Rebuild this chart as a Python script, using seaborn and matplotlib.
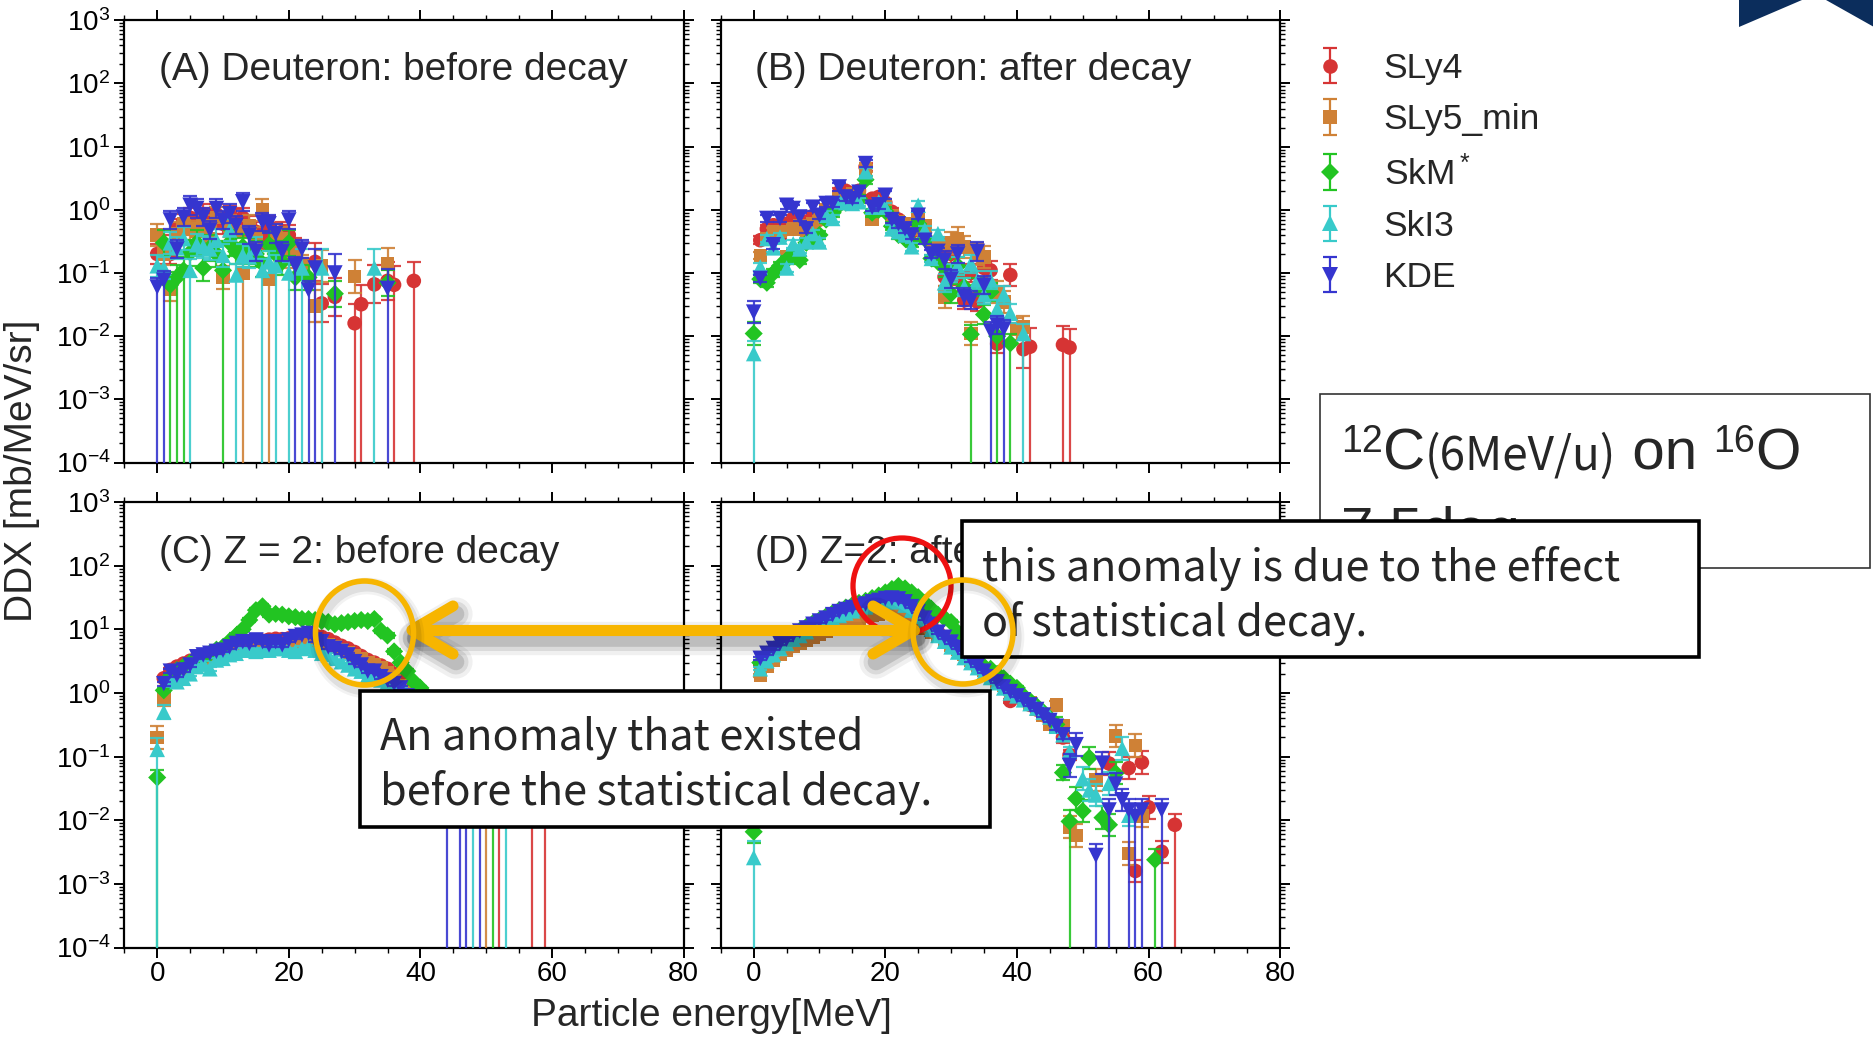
import numpy as np
import matplotlib
matplotlib.use("Agg")
import matplotlib.pyplot as plt
import seaborn as sns
from matplotlib.patches import Rectangle, Ellipse, Polygon
from matplotlib.lines import Line2D
from matplotlib.collections import LineCollection
from matplotlib.container import ErrorbarContainer
from matplotlib.ticker import LogLocator, MultipleLocator, NullFormatter

# ---------------------------------------------------------------- data
MODELS = ["SLy4", "SLy5_min", "SkM*", "SkI3", "KDE"]
LABELS = ["SLy4", "SLy5_min", "SkM$^*$", "SkI3", "KDE"]
COLORS = ["#d63434", "#cf8136", "#22c422", "#38caca", "#3535cf"]
MARKERS = ["o", "s", "D", "^", "v"]
TITLES = {"A": "(A) Deuteron: before decay", "B": "(B) Deuteron: after decay",
          "C": "(C) Z = 2: before decay", "D": "(D) Z=2: after decay"}
XLABEL = "Particle energy[MeV]"
YLABEL = "DDX [mb/MeV/sr]"

# Panel A : deuteron, before decay
A_SLy4_E = [0,1,2,3,4,5,6,7,8,9,10,11,12,13,14,15,16,17,18,19,20,21,22,24,25,27,30,31,33,35,36,39]
A_SLy4_y = [0.2,0.28,0.2,0.5,0.6,0.75,0.55,0.85,0.75,0.85,0.6,0.8,0.7,0.75,0.55,0.45,0.35,0.55,0.3,0.45,
            0.4,0.25,0.12,0.15,0.033,0.042,0.016,0.032,0.066,0.075,0.065,0.075]
A_SLy4_up = [0.45]*23 + [1.0]*9
A_SLy4_floor = [30,31,36,39]

A_SLy5_E = [0,1,2,3,4,5,6,7,8,9,10,11,12,13,14,15,16,17,18,19,20,21,22,24,25,30,35]
A_SLy5_y = [0.4,0.2,0.055,0.42,0.6,0.5,0.45,0.55,0.35,0.75,0.085,0.55,0.45,0.1,0.55,0.35,1.0,0.08,0.4,0.35,
            0.18,0.22,0.13,0.03,0.13,0.088,0.14]
A_SLy5_up = [0.5]*23 + [0.8]*4
A_SLy5_floor = [13,17]

A_SkM_E = [1,2,3,4,5,6,7,8,9,10,11,12,13,14,15,16,17,18,19,20,21,23,27,35]
A_SkM_y = [0.3,0.065,0.085,0.11,0.21,0.3,0.12,0.25,0.2,0.11,0.3,0.22,0.26,0.22,0.2,0.14,0.28,0.2,0.15,0.3,
           0.085,0.085,0.047,0.07]
A_SkM_up = [0.6]*24
A_SkM_floor = [2,3,4,10]

A_SkI3_E = [0,1,2,3,4,5,6,7,8,9,10,11,12,13,14,15,16,17,18,20,22,25,33]
A_SkI3_y = [0.13,0.12,0.3,0.25,0.35,0.11,0.28,0.26,0.24,0.33,0.19,0.48,0.093,0.19,0.18,0.25,0.11,0.15,0.13,0.1,
            0.12,0.12,0.12]
A_SkI3_up = [0.5]*20 + [1.0]*3
A_SkI3_floor = [5,12,16,18,20,22,25,33]

A_KDE_E = [0,1,2,3,4,5,6,7,8,9,10,11,12,13,14,15,16,17,18,19,20,21,22,23,24,27,35]
A_KDE_y = [0.06,0.077,0.69,0.24,0.77,1.18,1.05,0.77,0.48,1.05,0.69,0.87,0.57,1.34,0.4,0.22,0.64,0.6,0.42,0.22,
           0.69,0.13,0.24,0.054,0.12,0.1,0.057]
A_KDE_up = [0.4]*24 + [1.0]*3
A_KDE_floor = [0,1,21,23,24,27,35]

# Panel B : deuteron, after decay
B_SLy4_E = list(range(1, 38)) + [39,41,42,47,48]
B_SLy4_y = [0.33,0.5,0.57,0.4,0.6,0.73,0.5,0.65,0.8,0.7, 1.0,1.1,1.9,2.0,1.6,2.0,4.8,1.5,1.6,1.3,
            0.93,0.7,0.55,0.45,0.5,0.4,0.3,0.25,0.087,0.2, 0.09,0.037,0.1,0.035,0.12,0.11,0.0076,
            0.093,0.0062,0.0068,0.0073,0.0066]
B_SLy4_up = [0.15]*28 + [0.4]*9 + [0.5] + [1.0]*4
B_SLy4_floor = [42,47,48]

B_SLy5_E = list(range(1, 36)) + [37,38,40,41]
B_SLy5_y = [0.19,0.35,0.45,0.45,0.18,0.5,0.55,0.4,0.6,0.7, 1.0,1.1,1.5,1.5,1.8,1.9,4.5,0.7,1.0,1.2,
            0.8,0.65,0.6,0.5,0.75,0.55,0.3,0.3,0.042,0.3, 0.35,0.26,0.011,0.2,0.18, 0.05,0.035,0.013,0.014]
B_SLy5_up = [0.15]*28 + [0.5]*11
B_SLy5_floor = []

B_SkM_E = list(range(0, 38)) + [39]
B_SkM_y = [0.011,0.08,0.07,0.1,0.13,0.16,0.2,0.16,0.3,0.35, 0.4,0.7,0.9,1.2,1.3,1.4,1.5,3.0,0.9,1.0,
           0.95,0.55,0.4,0.35,0.3,0.6,0.35,0.17,0.15,0.12, 0.047,0.13,0.06,0.0107,0.06,0.022,0.05,0.01, 0.0077]
B_SkM_up = [0.5] + [0.15]*28 + [0.4]*10
B_SkM_floor = [33,37,39]

B_SkI3_E = list(range(0, 40)) + [41]
B_SkI3_y = [0.0053,0.125,0.35,0.25,0.37,0.12,0.29,0.24,0.31,0.42, 0.31,0.82,0.73,1.34,1.3,1.26,1.34,4.0,1.1,1.34,
            1.1,0.5,0.45,0.4,0.26,1.18,0.48,0.17,0.42,0.07, 0.1,0.13,0.06,0.14,0.077,0.045,0.077,0.027,0.045,0.023,
            0.011]
B_SkI3_up = [0.6] + [0.15]*28 + [0.4]*12
B_SkI3_floor = [0,41]

B_KDE_E = list(range(0, 39))
B_KDE_y = [0.024,0.082,0.73,0.28,0.73,1.18,1.05,0.77,0.5,1.1, 0.82,1.26,1.26,2.3,1.6,1.5,1.9,5.4,1.1,1.2,
           1.7,0.7,0.6,0.5,0.4,0.82,0.33,0.2,0.22,0.16, 0.08,0.2,0.042,0.037,0.22,0.064,0.012,0.015,0.013]
B_KDE_up = [0.5] + [0.15]*28 + [0.4]*10
B_KDE_floor = [36,38]

# Panel C : Z = 2, before decay
C_SLy4_E = list(range(1, 43)) + [52,57,59]
C_SLy4_y = [1.7,2.3,2.6,2.9,3.2,3.5,3.8,4.2,4.6,5.0, 5.3,5.6,6.0,6.3,6.6,6.6,6.9,7.1,7.0,7.2,
            7.6,8.0,8.3,8.0,7.6,7.0,6.2,5.5,5.0,4.4, 3.8,3.3,3.0,2.7,2.4,2.0,1.6,1.2,0.9,0.7,
            0.5,0.35, 0.05,0.03,0.03]
C_SLy4_up = [0.08]*42 + [1.0]*3
C_SLy4_floor = [52,57,59]

C_SLy5_E = list(range(0, 42)) + [50]
C_SLy5_y = [0.2,0.8,1.5,2.0,2.4,2.6,2.9,3.2,3.5,3.8, 4.1,4.4,4.7,5.0,5.2,5.4,5.4,5.6,5.7,5.8,
            6.0,6.2,6.5,6.8,6.5,6.2,5.8,5.3,4.8,4.3, 3.8,3.4,3.0,2.8,2.5,2.1,1.7,1.3,1.0,0.8,
            0.6,0.45, 0.05]
C_SLy5_up = [0.5,0.3] + [0.08]*40 + [1.0]
C_SLy5_floor = [50]

C_SkM_E = list(range(0, 44)) + [51]
C_SkM_y = [0.047,1.1,1.8,2.3,2.6,3.0,3.3,3.6,4.2,4.8, 5.3,6.5,8.0,10,14,20,23,17,17.5,17,
           16,15.5,14.5,14.5,14,13.5,13,12,12.5,13, 13.5,14,13.5,14.5,9.5,8.0,4.5,3.0,2.2,1.5,
           1.2,0.9,0.7,0.5, 0.05]
C_SkM_up = [0.3] + [0.08]*43 + [1.0]
C_SkM_floor = [0,51]

C_SkI3_E = list(range(0, 41)) + [48,53]
C_SkI3_y = [0.13,0.5,1.6,1.5,1.7,2.0,2.6,2.9,2.4,3.3, 3.5,4.0,4.2,4.7,4.7,4.5,4.7,4.7,5.0,5.0,
            4.7,4.5,5.0,5.3,4.7,4.2,4.0,3.5,3.1,2.75, 2.4,2.2,1.9,1.8,1.6,1.5,1.4,1.1,0.8,0.6,
            0.45, 0.04,0.03]
C_SkI3_up = [0.5,0.3] + [0.08]*39 + [1.0]*2
C_SkI3_floor = [0,48,53]

C_KDE_E = list(range(1, 41)) + [44,46,47,49]
C_KDE_y = [1.4,2.2,1.9,2.3,2.75,3.7,3.96,4.2,4.5,4.7, 5.3,6.0,6.4,6.0,6.8,6.4,5.7,6.4,5.7,6.8,
           7.7,8.1,8.6,6.8,6.4,5.3,5.0,4.5,3.96,3.1, 2.75,2.2,2.2,1.8,1.6,1.4,1.2,0.9,0.7,0.5,
           0.05,0.04,0.04,0.03]
C_KDE_up = [0.08]*40 + [1.0]*4
C_KDE_floor = [44,46,47,49]

# Panel D : Z = 2, after decay
D_SLy4_E = list(range(1, 49)) + [54,57,58,59,60,62,64]
D_SLy4_y = [2.8,3.8,4.5,5.5,6.5,7.5,8.5,10,11,12.5, 14,15.5,17,18.5,20,22,24,26,28,30,
            32,31,28,24,19,15,11.5,9,7.5,6, 5,4,3.2,2.6,2.1,1.8,1.5,1.25,0.75,0.9,
            0.78,0.65,0.55,0.45,0.36,0.3,0.2,0.106, 0.078,0.066,0.0016,0.081,0.016,0.0032,0.0085]
D_SLy4_up = [0.06]*46 + [0.2]*2 + [0.5]*7
D_SLy4_floor = [64]

D_SLy5_E = list(range(1, 48)) + [48,49,52,55,57,58,59]
D_SLy5_y = [1.9,2.6,3.3,4.0,4.7,5.4,6.1,6.8,7.6,8.4, 9.3,10.5,12,13,14,15,16,16.8,17.5,18.5,
            19,19,17,15,12.5,10.4,9,7.7,6.6,5.7, 4.8,4.0,3.3,2.7,2.3,1.9,1.5,1.3,1.1,0.95,
            0.8,0.7,0.55,0.45,0.32,0.65,0.3, 0.0078,0.0058,0.043,0.21,0.003,0.15,0.0117]
D_SLy5_up = [0.06]*44 + [0.15]*3 + [0.5]*7
D_SLy5_floor = []

D_SkM_E = list(range(0, 48)) + [48,49,50,51,53,54,55,61]
D_SkM_y = [0.0066, 3.0,3.8,4.8,5.8,7,8.2,9.5,11,12.5,14, 16,18,20,22,24,26,28,31,34,38,
           43,48,44,38,32,26,21,17,15,13, 9,6,4,3.2,2.6,2.4,2.0,1.7,1.4,1.2,
           0.9,0.75,0.62,0.5,0.4,0.32,0.056, 0.0096,0.022,0.014,0.096,0.011,0.0085,0.055,0.0024]
D_SkM_up = [0.5] + [0.06]*45 + [0.3]*2 + [0.5]*8
D_SkM_floor = [48,61]

D_SkI3_E = list(range(0, 49)) + [50,51,52,54,56,57]
D_SkI3_y = [0.0026, 2.4,3.2,4.0,5.0,6.0,7.0,8.0,9.2,10.5,12, 13.5,15,16.5,18,19.5,21,22.5,24,25.5,27,
            28,27,24,20,16,12.5,10,8,6.5,5.3, 4.4,3.6,3.0,2.5,2.1,1.75,1.45,1.2,1.0,0.9,
            0.78,0.68,0.58,0.5,0.42,0.3,0.22,0.12, 0.045,0.03,0.025,0.038,0.135,0.012]
D_SkI3_up = [0.8] + [0.06]*45 + [0.2]*3 + [0.5]*6
D_SkI3_floor = [0]

D_KDE_E = list(range(1, 48)) + [48,49,52,53,54,55,56,57,58,59,62]
D_KDE_y = [3.5,4.2,5.0,6.0,7.0,8.2,9.4,10.5,12,13.5, 15,17,19,20.5,22,23.5,25,27,28.5,30.5,
           31,30,27,22.7,19,15,12,9,7.5,6.3, 5.2,4.3,3.3,2.7,2.2,1.8,1.5,1.25,1.05,0.9,
           0.78,0.65,0.55,0.45,0.37,0.3,0.22, 0.073,0.154,0.0028,0.079,0.0145,0.037,0.021,0.0145,0.0115,0.0145,0.0145]
D_KDE_up = [0.06]*45 + [0.15]*2 + [0.5]*11
D_KDE_floor = [52,54,57,58,59,62]

SERIES = {
    "A": [(A_SLy4_E, A_SLy4_y, A_SLy4_up, A_SLy4_floor), (A_SLy5_E, A_SLy5_y, A_SLy5_up, A_SLy5_floor),
          (A_SkM_E, A_SkM_y, A_SkM_up, A_SkM_floor), (A_SkI3_E, A_SkI3_y, A_SkI3_up, A_SkI3_floor),
          (A_KDE_E, A_KDE_y, A_KDE_up, A_KDE_floor)],
    "B": [(B_SLy4_E, B_SLy4_y, B_SLy4_up, B_SLy4_floor), (B_SLy5_E, B_SLy5_y, B_SLy5_up, B_SLy5_floor),
          (B_SkM_E, B_SkM_y, B_SkM_up, B_SkM_floor), (B_SkI3_E, B_SkI3_y, B_SkI3_up, B_SkI3_floor),
          (B_KDE_E, B_KDE_y, B_KDE_up, B_KDE_floor)],
    "C": [(C_SLy4_E, C_SLy4_y, C_SLy4_up, C_SLy4_floor), (C_SLy5_E, C_SLy5_y, C_SLy5_up, C_SLy5_floor),
          (C_SkM_E, C_SkM_y, C_SkM_up, C_SkM_floor), (C_SkI3_E, C_SkI3_y, C_SkI3_up, C_SkI3_floor),
          (C_KDE_E, C_KDE_y, C_KDE_up, C_KDE_floor)],
    "D": [(D_SLy4_E, D_SLy4_y, D_SLy4_up, D_SLy4_floor), (D_SLy5_E, D_SLy5_y, D_SLy5_up, D_SLy5_floor),
          (D_SkM_E, D_SkM_y, D_SkM_up, D_SkM_floor), (D_SkI3_E, D_SkI3_y, D_SkI3_up, D_SkI3_floor),
          (D_KDE_E, D_KDE_y, D_KDE_up, D_KDE_floor)],
}

# ---------------------------------------------------------------- style
sns.set_theme(style="ticks")
plt.rcParams["font.family"] = ["Liberation Sans", "DejaVu Sans"]
plt.rcParams["mathtext.fontset"] = "custom"
plt.rcParams["mathtext.rm"] = "Liberation Sans"
plt.rcParams["mathtext.it"] = "Liberation Sans:italic"
plt.rcParams["mathtext.bf"] = "Liberation Sans:bold"
plt.rcParams["axes.unicode_minus"] = True

W, H = 1874, 1037
fig = plt.figure(figsize=(W / 100, H / 100), dpi=100)
fig.patch.set_facecolor("white")


def fx(x):
    return x / W


def fy(y):
    return 1 - y / H


SIZES = {"o": 110, "s": 95, "D": 85, "^": 125, "v": 125}
CAP = 4.8
ELW = 1.6

AX_POS = {"A": (124.3, 20.3, 683.6, 462.5), "B": (720.8, 20.3, 1280.1, 462.5),
          "C": (124.3, 502.0, 683.6, 947.6), "D": (720.8, 502.0, 1280.1, 947.6)}
TITLE_Y = {"A": 0.866, "B": 0.866, "C": 0.862, "D": 0.862}

for key, (x0, y0, x1, y1) in AX_POS.items():
    ax = fig.add_axes([fx(x0), fy(y1), (x1 - x0) / W, (y1 - y0) / H])
    ax.set_yscale("log")
    ax.set_xlim(-5, 80)
    ax.set_ylim(1e-4, 1e3)
    for i, (E, y, up, floor) in enumerate(SERIES[key]):
        E = np.asarray(E, float)
        y = np.asarray(y, float)
        up = np.asarray(up, float)
        hi = y * up
        lo = y * up / (1 + up)
        m = np.isin(E, floor)
        lo[m] = y[m] - 1e-7
        ax.errorbar(E, y, yerr=[lo, hi], fmt="none", ecolor=COLORS[i], elinewidth=ELW,
                    capsize=CAP, capthick=ELW, zorder=2 + 2 * i, alpha=0.9)
        sns.scatterplot(x=E, y=y, ax=ax, marker=MARKERS[i], s=SIZES[MARKERS[i]],
                        color=COLORS[i], edgecolor="none", linewidth=0,
                        zorder=3 + 2 * i, legend=False)
    ax.set_xlabel("")
    ax.set_ylabel("")
    ax.xaxis.set_major_locator(MultipleLocator(20))
    ax.xaxis.set_minor_locator(MultipleLocator(5))
    ax.yaxis.set_major_locator(LogLocator(base=10, numticks=20))
    ax.yaxis.set_minor_locator(LogLocator(base=10, subs=np.arange(2, 10), numticks=20))
    ax.yaxis.set_minor_formatter(NullFormatter())
    ax.tick_params(which="both", direction="out", top=True, right=True, colors="black")
    ax.tick_params(which="major", length=7, width=1.4, labelsize=20, pad=3)
    ax.tick_params(which="minor", length=3.5, width=1.0)
    if key in ("A", "B"):
        ax.tick_params(labelbottom=False)
    if key in ("B", "D"):
        ax.tick_params(labelleft=False)
    for sp in ax.spines.values():
        sp.set_visible(True)
        sp.set_linewidth(1.6)
        sp.set_color("black")
    ax.text(0.062, TITLE_Y[key], TITLES[key], transform=ax.transAxes, fontsize=28,
            va="baseline", ha="left", zorder=20)

fig.text(fx(711), fy(1016), XLABEL, fontsize=28, ha="center", va="center")
fig.text(fx(22), fy(471), YLABEL, fontsize=28, ha="center", va="center", rotation=90)

# ---------------------------------------------------------------- legend
handles = []
for c, mk, lab in zip(COLORS, MARKERS, LABELS):
    ln = Line2D([], [], ls="none", marker=mk, color=c, markersize=np.sqrt(SIZES[mk]),
                markeredgewidth=0)
    cap = Line2D([], [], ls="none", marker="_", color=c, markersize=2 * CAP, markeredgewidth=ELW)
    bar = LineCollection([], colors=c, linewidths=ELW)
    handles.append(ErrorbarContainer((ln, (cap, cap), (bar,)), has_xerr=False, has_yerr=True, label=lab))
fig.legend(handles, LABELS, loc="upper left", bbox_to_anchor=(fx(1318), fy(52)),
           bbox_transform=fig.transFigure, frameon=False, fontsize=25.5, handlelength=0.7,
           handletextpad=1.15, labelspacing=0.52, borderpad=0, borderaxespad=0, numpoints=1)

# ---------------------------------------------------------------- slide overlay
renderer = fig.canvas.get_renderer()

# logo corner
fig.add_artist(Polygon([(fx(1739), fy(0)), (fx(1802), fy(0)), (fx(1739), fy(27))],
                       closed=True, transform=fig.transFigure, facecolor="#0b2d5c", edgecolor="none", zorder=5))
fig.add_artist(Polygon([(fx(1826), fy(0)), (fx(1874), fy(0)), (fx(1874), fy(27))],
                       closed=True, transform=fig.transFigure, facecolor="#0b2d5c", edgecolor="none", zorder=5))

# condition box
fig.add_artist(Rectangle((fx(1320), fy(568)), (1870 - 1320) / W, (568 - 394) / H, transform=fig.transFigure,
                         facecolor="white", edgecolor="#333333", linewidth=1.2, zorder=5))
pieces = [("12", 27, "Liberation Sans", 452), ("C", 42, "Liberation Sans", 470),
          ("(6MeV/u)", 33, "Noto Sans CJK JP", 470), (" on ", 42, "Liberation Sans", 470),
          ("16", 27, "Liberation Sans", 452), ("O", 42, "Liberation Sans", 470)]
xcur = 1341
for txt, size, fam, base in pieces:
    t = fig.text(fx(xcur), fy(base), txt, fontsize=size, family=[fam, "DejaVu Sans"],
                 ha="left", va="baseline", zorder=6)
    bb = t.get_window_extent(renderer=renderer)
    xcur = bb.x1
fig.text(fx(1341), fy(548), "7.5deg", fontsize=42, ha="left", va="baseline", zorder=6)

# double arrow with soft shadow
ARROW_Y = 630
shaft = ([412, 914], [ARROW_Y, ARROW_Y])
head_l = ([453, 412, 453], [ARROW_Y - 24, ARROW_Y, ARROW_Y + 24])
head_r = ([873, 914, 873], [ARROW_Y - 24, ARROW_Y, ARROW_Y + 24])
for (xs, ys) in (shaft, head_l, head_r):
    for extra, a in ((16, 0.06), (10, 0.09), (4, 0.13)):
        fig.add_artist(Line2D([fx(v + 3) for v in xs], [fy(v + 8) for v in ys], transform=fig.transFigure,
                              color="black", alpha=a, linewidth=8 + extra, solid_capstyle="round",
                              solid_joinstyle="round", zorder=7))
for (xs, ys) in (shaft, head_l, head_r):
    fig.add_artist(Line2D([fx(v) for v in xs], [fy(v) for v in ys], transform=fig.transFigure,
                          color="#f7b500", linewidth=8, solid_capstyle="round",
                          solid_joinstyle="round", zorder=9))

# red circle (under arrow)
fig.add_artist(Ellipse((fx(902), fy(586)), 98 / W, 96 / H, transform=fig.transFigure,
                       facecolor="none", edgecolor="#ee1111", linewidth=3.8, zorder=8))

# orange ellipse on panel C
for extra, a in ((8, 0.05), (4, 0.08)):
    fig.add_artist(Ellipse((fx(367), fy(638)), 98 / W, 104 / H, transform=fig.transFigure,
                           facecolor="none", edgecolor="black", alpha=a, linewidth=4 + extra, zorder=9))
fig.add_artist(Ellipse((fx(364.5), fy(633)), 98 / W, 104 / H, transform=fig.transFigure,
                       facecolor="none", edgecolor="#f7b500", linewidth=4, zorder=10))

# text boxes
fig.add_artist(Rectangle((fx(962), fy(657)), (1699 - 962) / W, (657 - 521) / H, transform=fig.transFigure,
                         facecolor="white", edgecolor="black", linewidth=2.6, zorder=11))
fig.text(fx(982), fy(581), "this anomaly is due to the effect", fontsize=31,
         family=["Noto Sans CJK JP", "DejaVu Sans"], ha="left", va="baseline", zorder=12)
fig.text(fx(982), fy(636), "of statistical decay.", fontsize=31,
         family=["Noto Sans CJK JP", "DejaVu Sans"], ha="left", va="baseline", zorder=12)

fig.add_artist(Rectangle((fx(360), fy(827)), (990 - 360) / W, (827 - 691) / H, transform=fig.transFigure,
                         facecolor="white", edgecolor="black", linewidth=2.6, zorder=11))
fig.text(fx(380), fy(750), "An anomaly that existed", fontsize=31,
         family=["Noto Sans CJK JP", "DejaVu Sans"], ha="left", va="baseline", zorder=12)
fig.text(fx(380), fy(805), "before the statistical decay.", fontsize=31,
         family=["Noto Sans CJK JP", "DejaVu Sans"], ha="left", va="baseline", zorder=12)

# orange ellipse on panel D (over the box)
for extra, a in ((8, 0.05), (4, 0.08)):
    fig.add_artist(Ellipse((fx(966), fy(637)), 100 / W, 104 / H, transform=fig.transFigure,
                           facecolor="none", edgecolor="black", alpha=a, linewidth=4 + extra, zorder=13))
fig.add_artist(Ellipse((fx(963), fy(632)), 100 / W, 104 / H, transform=fig.transFigure,
                       facecolor="none", edgecolor="#f7b500", linewidth=4, zorder=14))

fig.savefig("out.png", dpi=100)
